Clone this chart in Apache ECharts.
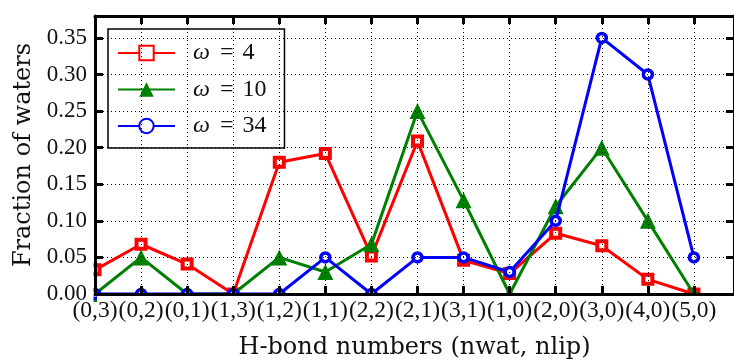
<!DOCTYPE html>
<html>
<head>
<meta charset="utf-8">
<script src="https://cdn.jsdelivr.net/npm/echarts@6/dist/echarts.min.js"></script>
<style>html,body{margin:0;padding:0;background:#fff}#c{width:734px;height:360px}</style>
</head>
<body>
<div id="c"></div>
<script>
var categories = ['(0,3)','(0,2)','(0,1)','(1,3)','(1,2)','(1,1)','(2,2)','(2,1)','(3,1)','(1,0)','(2,0)','(3,0)','(4,0)','(5,0)'];
var omegaLabels = ['4', '10', '34'];
var w4  = [0.033, 0.068, 0.041, 0.000, 0.180, 0.192, 0.052, 0.209, 0.046, 0.028, 0.083, 0.066, 0.020, 0.000];
var w10 = [0.000, 0.050, 0.000, 0.000, 0.050, 0.030, 0.068, 0.250, 0.128, 0.000, 0.120, 0.200, 0.100, 0.000];
var w34 = [0.000, 0.000, 0.000, 0.000, 0.000, 0.050, 0.000, 0.050, 0.050, 0.030, 0.100, 0.350, 0.300, 0.050];
var yTicks = [0.00, 0.05, 0.10, 0.15, 0.20, 0.25, 0.30, 0.35];

var FONT = 'Liberation Serif';
var TFONT = 'DejaVu Serif';
var TXT = '#111';
function pairs(arr){ return arr.map(function(v,i){ return [i, v]; }); }

var chart = echarts.init(document.getElementById('c'), null, {renderer:'canvas'});
var xMax = 13.87;
var splitStyle = {show:true, lineStyle:{color:'#000', width:1, type:[1,3]}};
var tickStyle = {show:true, inside:true, length:8, lineStyle:{color:'#000', width:3}};
var axisLineStyle = {show:true, onZero:false, lineStyle:{color:'#000', width:3}};

chart.setOption({
  animation:false,
  backgroundColor:'#fff',
  grid:{left:95, top:16, right:0, bottom:66, containLabel:false, outerBoundsMode:'none'},
  legend:{
    show:true, orient:'vertical', left:108, top:29,
    padding:[12,18,10,9], itemGap:12.5, itemWidth:57, itemHeight:18,
    borderColor:'#000', borderWidth:1.5, backgroundColor:'#fff',
    data:['w4','w10','w34'],
    formatter:function(n){ var idx = ['w4','w10','w34'].indexOf(n); return '{i|ω}{e|=}' + omegaLabels[idx]; },
    textStyle:{fontFamily:FONT, fontSize:24, color:TXT, lineHeight:24,
      rich:{
        i:{fontFamily:FONT, fontStyle:'italic', fontSize:24, color:TXT, lineHeight:24, padding:[0,0,0,13]},
        e:{fontFamily:FONT, fontSize:24, color:TXT, lineHeight:24, padding:[0,9,0,10]}
      }},
    z:20
  },
  xAxis:[{
    type:'value', min:0, max:xMax, interval:1, z:60,
    axisLine:axisLineStyle, axisTick:tickStyle, splitLine:splitStyle,
    axisLabel:{show:true, margin:5, fontFamily:FONT, fontSize:23.5, color:TXT, showMaxLabel:false,
      formatter:function(v){ var i = Math.round(v); return (Math.abs(v-i)<1e-6 && categories[i]) ? categories[i] : ''; }},
    name:'H-bond numbers (nwat, nlip)', nameLocation:'middle', nameGap:42,
    nameTextStyle:{fontFamily:TFONT, fontSize:24, color:TXT}
  },{
    type:'value', position:'top', min:0, max:xMax, interval:1, z:60,
    axisLine:axisLineStyle, axisTick:tickStyle, splitLine:{show:false}, axisLabel:{show:false}
  }],
  yAxis:[{
    type:'value', min:0, max:0.38, interval:0.05, z:60,
    axisLine:axisLineStyle, axisTick:tickStyle, splitLine:splitStyle,
    axisLabel:{show:true, margin:8, fontFamily:FONT, fontSize:23, color:TXT, showMaxLabel:false,
      formatter:function(v){ return v.toFixed(2); }},
    name:'Fraction of waters', nameLocation:'middle', nameGap:56,
    nameTextStyle:{fontFamily:TFONT, fontSize:24, color:TXT}
  },{
    type:'value', position:'right', min:0, max:0.38, interval:0.05, z:60,
    axisLine:axisLineStyle, axisTick:tickStyle, splitLine:{show:false}, axisLabel:{show:false}
  }],
  graphic:[
    {type:'rect', z:50, silent:true, shape:{x:97, y:295.5, width:640, height:7}, style:{fill:'#fff'}},
    {type:'rect', z:50, silent:true, shape:{x:87, y:10, width:6.5, height:292}, style:{fill:'#fff'}}
  ],
  series:[
    {name:'w4', type:'line', data:pairs(w4), z:2, clip:false,
      symbol:'rect', symbolSize:9, showAllSymbol:true,
      lineStyle:{color:'#ff0000', width:3},
      itemStyle:{color:'#ffffff', borderColor:'#ff0000', borderWidth:4}},
    {name:'w10', type:'line', data:pairs(w10), z:3, clip:false,
      symbol:'triangle', symbolSize:16, showAllSymbol:true,
      lineStyle:{color:'#008000', width:3},
      itemStyle:{color:'#008000', borderColor:'#008000', borderWidth:0}},
    {name:'w34', type:'line', data:pairs(w34), z:4, clip:false,
      symbol:'circle', symbolSize:9, showAllSymbol:true,
      lineStyle:{color:'#0000ff', width:3},
      itemStyle:{color:'#ffffff', borderColor:'#0000ff', borderWidth:3.5}}
  ]
});
</script>
</body>
</html>
